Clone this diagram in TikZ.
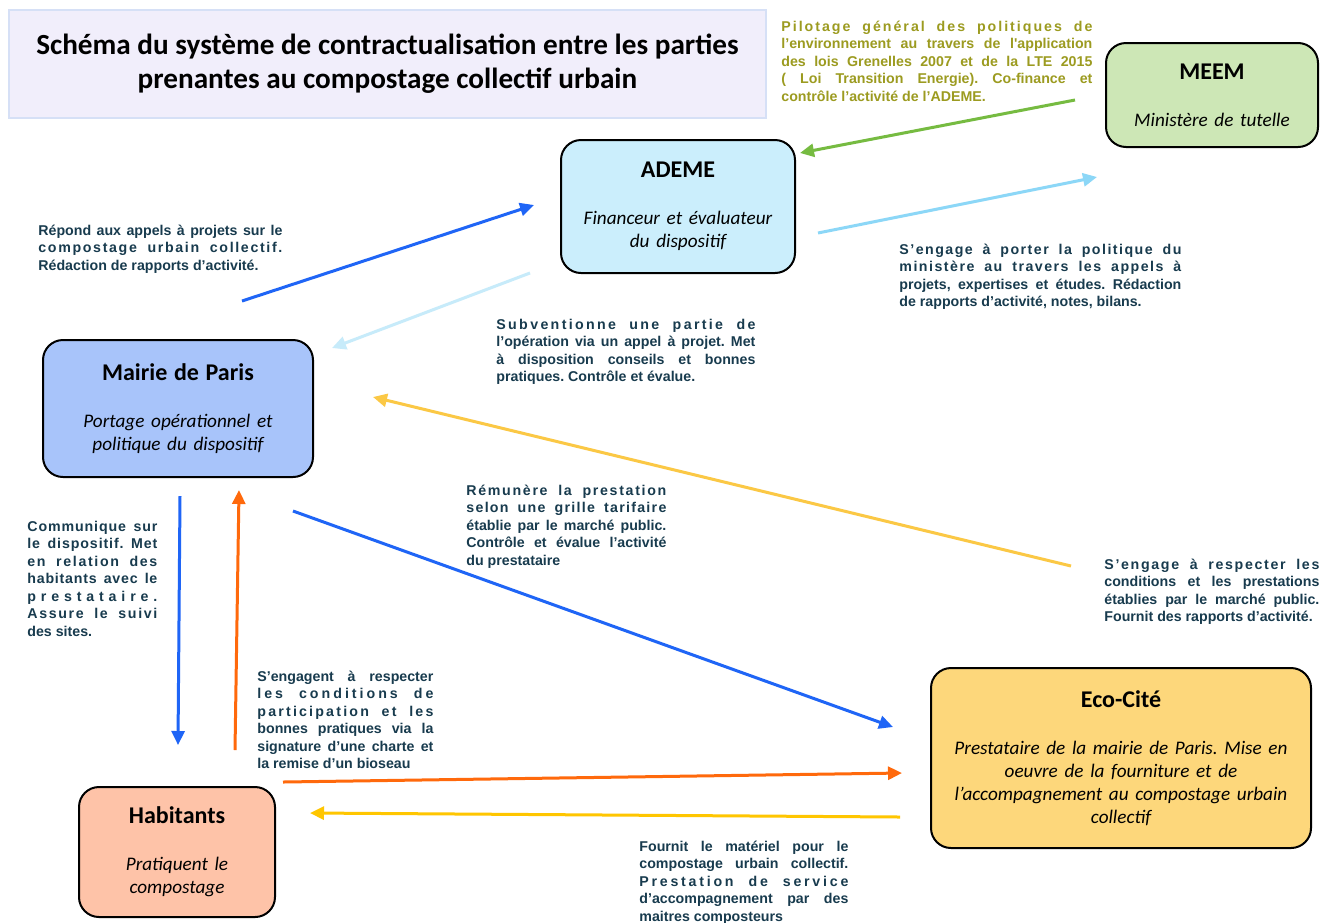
\documentclass[tikz,border=0pt]{standalone}
\usepackage{fontspec}
\setmainfont{Carlito}
\newfontfamily\notefont{Liberation Sans}
\usetikzlibrary{arrows.meta,positioning}
\definecolor{Ink}{HTML}{183B4E}
\definecolor{Olive}{HTML}{9C9B20}
\definecolor{Lav}{HTML}{F1EEFB}
\definecolor{LavEdge}{HTML}{D6E0F6}
\definecolor{MeemFill}{HTML}{CDE7B6}
\definecolor{AdemeFill}{HTML}{CBEEFC}
\definecolor{MairieFill}{HTML}{A8C4FA}
\definecolor{EcoFill}{HTML}{FDD77B}
\definecolor{HabFill}{HTML}{FEC3A8}
\definecolor{Blue}{HTML}{1F65F6}
\definecolor{Sky}{HTML}{8CD7F7}
\definecolor{PaleSky}{HTML}{C7EBFA}
\definecolor{Leaf}{HTML}{76BB41}
\definecolor{Gold}{HTML}{FBC845}
\definecolor{Amber}{HTML}{FFC600}
\definecolor{Orange}{HTML}{FF690C}
% justified lines: spread on words only, or on letters and words
\ExplSyntaxOn
\cs_new:Npn \spreadchars #1
  { \str_map_inline:nn {#1} { \str_if_eq:nnTF {##1} {~} { \hskip .28em plus 3fil\relax } { ##1 \hskip 0pt plus 1fil\relax } } }
\ExplSyntaxOff
\newcommand\jline[1]{{\spaceskip=.28em plus 1fil minus .05em\relax\parfillskip=0pt #1\par}}
\newcommand\lsline[1]{{\parfillskip=0pt \spreadchars{#1}\unskip\par}}
\newcommand\roles[2]{{\fontsize{12}{14}\selectfont\bfseries #1\par}\vspace{12pt}{\fontsize{9.6}{11.5}\selectfont\itshape #2\par}}
\frenchspacing
\tikzset{
  actor/.style={draw=black,line width=1pt,rounded corners=10pt,align=center,inner sep=0pt},
  titlebox/.style={draw=LavEdge,line width=.8pt,fill=Lav,align=center,minimum width=378.5pt,minimum height=54pt,font=\bfseries\fontsize{14.6}{17}\selectfont},
  note/.style={anchor=base west,inner sep=0pt,align=justify,text=Ink,font=\notefont\bfseries\fontsize{7.1}{8.75}\selectfont},
  arr/.style={-{Triangle[length=7pt,width=6.5pt]},line width=1.5pt}
}
\begin{document}
\begin{tikzpicture}[x=0.5pt,y=-0.5pt]
  \fill[white] (0,0) rectangle (1320,922);
  \useasboundingbox (0,0) rectangle (1320,922);

  \node[titlebox] (title) at (387.5,64) {Schéma du système de contractualisation entre les parties\\prenantes au compostage collectif urbain};

  % the parties
  \node[actor,fill=MeemFill,minimum width=106pt,minimum height=52pt,text width=100pt] (meem) at (1212,95) {\roles{MEEM}{Ministère de tutelle}};
  \node[actor,fill=AdemeFill,minimum width=117pt,minimum height=66.5pt,text width=110pt] (ademe) at (678,206.5) {\roles{ADEME}{Financeur et évaluateur\\du dispositif}};
  \node[actor,fill=MairieFill,minimum width=135pt,minimum height=68.5pt,text width=128pt] (mairie) at (178,408.5) {\roles{Mairie de Paris}{Portage opérationnel et\\politique du dispositif}};
  \node[actor,fill=EcoFill,minimum width=190pt,minimum height=90pt,text width=182pt] (eco) at (1121,758) {\roles{Eco-Cité}{Prestataire de la mairie de Paris. Mise en\\oeuvre de la fourniture et de\\l’accompagnement au compostage urbain\\collectif}};
  \node[actor,fill=HabFill,minimum width=98pt,minimum height=65pt,text width=92pt] (hab) at (177,852) {\roles{Habitants}{Pratiquent le\\compostage}};

  % notes
  \node[note,text=Olive,text width=155.5pt] (pilot) at (781,31) {\lsline{Pilotage général des politiques de}\jline{l’environnement au travers de l'application}\jline{des lois Grenelles 2007 et de la LTE 2015}\jline{( Loi Transition Energie). Co-finance et}contrôle l’activité de l’ADEME.};
  \node[note,text width=122pt] (repond) at (38,235) {\jline{Répond aux appels à projets sur le}\lsline{compostage urbain collectif.}Rédaction de rapports d’activité.};
  \node[note,text width=129.5pt] (subv) at (496,329) {\lsline{Subventionne une partie de}\jline{l’opération via un appel à projet. Met}\jline{à disposition conseils et bonnes}pratiques. Contrôle et évalue.};
  \node[note,text width=141pt] (porter) at (899,254) {\lsline{S’engage à porter la politique du}\lsline{ministère au travers les appels à}\jline{projets, expertises et études. Rédaction}de rapports d’activité, notes, bilans.};
  \node[note,text width=65pt] (comm) at (27,531) {\lsline{Communique sur}\lsline{le dispositif. Met}\lsline{en relation des}\lsline{habitants avec le}\lsline{prestataire.}\lsline{Assure le suivi}des sites.};
  \node[note,text width=100pt] (remun) at (466,495) {\lsline{Rémunère la prestation}\lsline{selon une grille tarifaire}\jline{établie par le marché public.}\jline{Contrôle et évalue l’activité}du prestataire};
  \node[note,text width=107.5pt] (respect) at (1104,569) {\lsline{S’engage à respecter les}\jline{conditions et les prestations}\jline{établies par le marché public.}Fournit des rapports d’activité.};
  \node[note,text width=88pt] (charte) at (257,681) {\jline{S’engagent à respecter}\lsline{les conditions de}\lsline{participation et les}\jline{bonnes pratiques via la}\jline{signature d’une charte et}la remise d’un bioseau};
  \node[note,text width=104.5pt] (fournit) at (639,851) {\jline{Fournit le matériel pour le}\jline{compostage urbain collectif.}\lsline{Prestation de service}\jline{d’accompagnement par des}maitres composteurs};

  % arrow ends
  \coordinate (g0) at (1075,100); \coordinate (g1) at (800,153);
  \coordinate (s0) at (818,233);  \coordinate (s1) at (1097,177);
  \coordinate (b0) at (242,301);  \coordinate (b1) at (534,205);
  \coordinate (p0) at (530,273);  \coordinate (p1) at (332,348);
  \coordinate (y0) at (1071,566); \coordinate (y1) at (373,397);
  \coordinate (e0) at (293,511);  \coordinate (e1) at (893,727);
  \coordinate (h0) at (180,496);  \coordinate (h1) at (178,745);
  \coordinate (o0) at (235,750);  \coordinate (o1) at (239,490);
  \coordinate (q0) at (283,782);  \coordinate (q1) at (902,773);
  \coordinate (m0) at (900,817);  \coordinate (m1) at (310,813);

  \draw[arr,Leaf] (g0) -- (g1);
  \draw[arr,Sky] (s0) -- (s1);
  \draw[arr,Blue] (b0) -- (b1);
  \draw[arr,PaleSky] (p0) -- (p1);
  \draw[arr,Gold] (y0) -- (y1);
  \draw[arr,Blue] (e0) -- (e1);
  \draw[arr,Blue] (h0) -- (h1);
  \draw[arr,Orange] (o0) -- (o1);
  \draw[arr,Orange] (q0) -- (q1);
  \draw[arr,Amber] (m0) -- (m1);
\end{tikzpicture}
\end{document}
